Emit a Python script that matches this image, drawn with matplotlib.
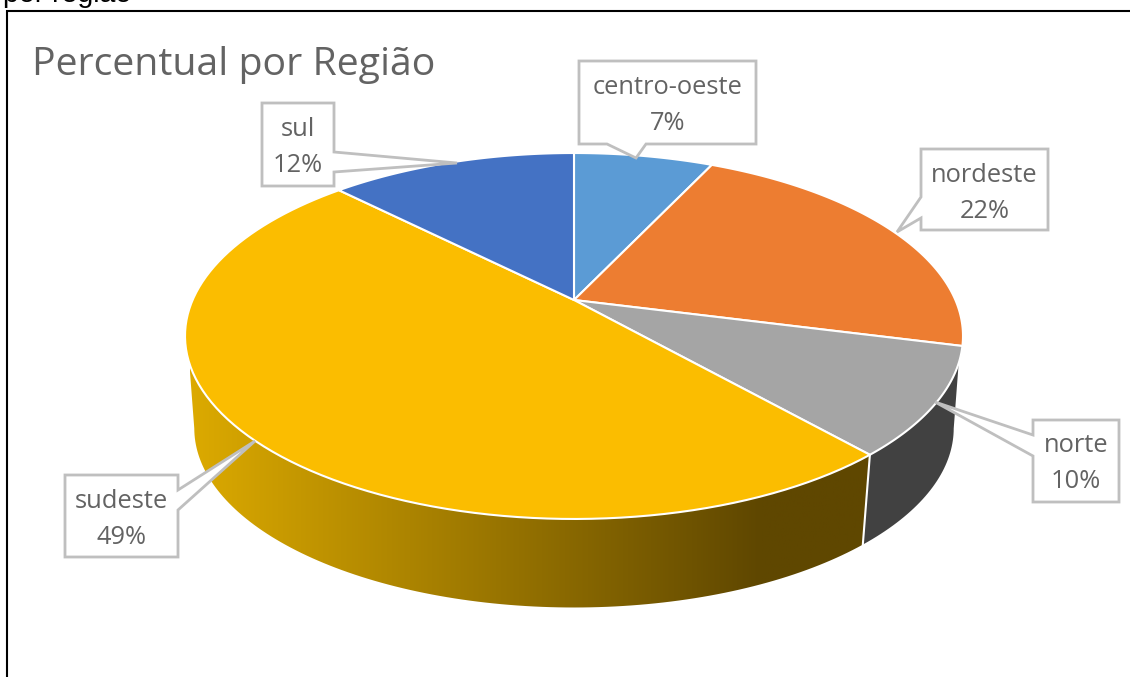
import numpy as np
import matplotlib
matplotlib.use('Agg')
import matplotlib.pyplot as plt
from matplotlib.patches import Polygon
from matplotlib.colors import LinearSegmentedColormap

regioes = ['centro-oeste', 'nordeste', 'norte', 'sudeste', 'sul']
valores = [7.0, 22.0, 9.5, 49.1, 12.4]
cores = ['#5b9bd5', '#ed7d31', '#a5a5a5', '#fbbd00', '#4472c4']

# caixas: x0, x1, y0, y1 e a ponta (3 pontos) em pixels
caixas = {
    'centro-oeste': ((579, 756, 61, 144), [(646, 144), (636, 158), (607, 144)]),
    'nordeste': ((921, 1048, 149, 230), [(921, 218), (897, 232), (921, 197)]),
    'norte': ((1033, 1119, 420, 502), [(1033, 456), (935, 402), (1033, 435)]),
    'sudeste': ((65, 178, 475, 557), [(178, 490), (255, 441), (178, 510)]),
    'sul': ((262, 334, 103, 186), [(334, 172), (457, 163), (334, 152)]),
}

fonte = 'Open Sans'
cor_texto = '#636363'
cinza_caixa = '#bfbfbf'

fig = plt.figure(figsize=(11.3, 6.77), dpi=100)
ax = fig.add_axes([0, 0, 1, 1])
ax.axis('off')

k = 0.1967


def borda(t, y0, sy, sx):
    # circulo em perspectiva, t em graus a partir do topo, sentido horario
    t = np.radians(t)
    X, Y = np.sin(t), np.cos(t)
    w = 1 + k * Y
    return np.column_stack((574 + sx * X / w, y0 - sy * Y / w))


def topo(t):
    return borda(t, 300, 175.9, 381.4)


def base(t):
    return borda(t, 393, 172.3, 372.3)


limites = np.concatenate(([0], np.cumsum(valores))) * 3.6

# lateral do norte
i = regioes.index('norte')
ini, fim = limites[i], limites[i + 1]
lat = np.vstack((topo(np.linspace(109.6, fim, 40)), base(np.linspace(fim, 101.4, 40))))
p_norte = Polygon(lat, closed=True, fc='#414141', ec='none', zorder=2)
ax.add_patch(p_norte)

# lateral do sudeste com gradiente
j = regioes.index('sudeste')
ini2, fim2 = limites[j], limites[j + 1]
lat2 = np.vstack((topo(np.linspace(ini2, 250.4, 120)), base(np.linspace(258.6, ini2, 120))))
p_sud = Polygon(lat2, closed=True, fc='none', ec='none', zorder=2)
ax.add_patch(p_sud)
cm = LinearSegmentedColormap.from_list('lat', [(0, '#dcaa00'), (0.84, '#5f4700'), (1, '#5f4700')])
grad = ax.imshow(np.linspace(0, 1, 256).reshape(1, -1), extent=(190, 870, 620, 340), aspect='auto', cmap=cm, zorder=2)
grad.set_clip_path(p_sud)

# linha branca entre as laterais
sep = np.vstack((topo(np.array([ini2])), base(np.array([ini2]))))
ax.plot(sep[:, 0], sep[:, 1], color='white', lw=1.5, zorder=3)

# fatias de cima
for n in range(len(regioes)):
    a, b = limites[n], limites[n + 1]
    pts = np.vstack(([(574, 300)], topo(np.linspace(a, b, 100))))
    ax.add_patch(Polygon(pts, closed=True, fc=cores[n], ec='white', lw=1.5, joinstyle='round', zorder=4))

# caixas e textos
for n, nome in enumerate(regioes):
    (x0, x1, y0, y1), ponta = caixas[nome]
    # a ponta entra na borda certa da caixa
    if nome == 'centro-oeste':
        pts = [(x0, y0), (x1, y0), (x1, y1)] + ponta + [(x0, y1)]
    elif nome == 'nordeste':
        pts = [(x0, y0), (x1, y0), (x1, y1), (x0, y1)] + ponta
    elif nome == 'norte':
        pts = [(x0, y0), (x1, y0), (x1, y1), (x0, y1)] + ponta
    elif nome == 'sudeste':
        pts = [(x0, y0), (x1, y0)] + ponta + [(x1, y1), (x0, y1)]
    else:
        pts = [(x0, y0), (x1, y0)] + ponta[::-1] + [(x1, y1), (x0, y1)]
    ax.add_patch(Polygon(pts, closed=True, fc='white', ec=cinza_caixa, lw=2.0, joinstyle='miter', zorder=5))
    xc = (x0 + x1) / 2
    ax.text(xc, y0 + 26, nome, ha='center', va='center', color=cor_texto, fontsize=18.4, family=fonte, zorder=6)
    ax.text(xc, y0 + 62, '%.0f%%' % valores[n], ha='center', va='center', color=cor_texto, fontsize=18.4, family=fonte, zorder=6)

ax.text(32, 65, 'Percentual por Região', ha='left', va='center', color=cor_texto, fontsize=28.3, family=fonte, zorder=6)

# moldura preta e texto cortado em cima
ax.plot([7, 7, 1130], [677, 11, 11], color='black', lw=1.5, zorder=7, solid_joinstyle='miter')
ax.text(3, 2, 'por região', ha='left', va='baseline', color='black', fontsize=20.5, family='Liberation Sans', zorder=7)

ax.set_xlim(0, 1130)
ax.set_ylim(677, 0)
fig.savefig('out.png', dpi=100)
